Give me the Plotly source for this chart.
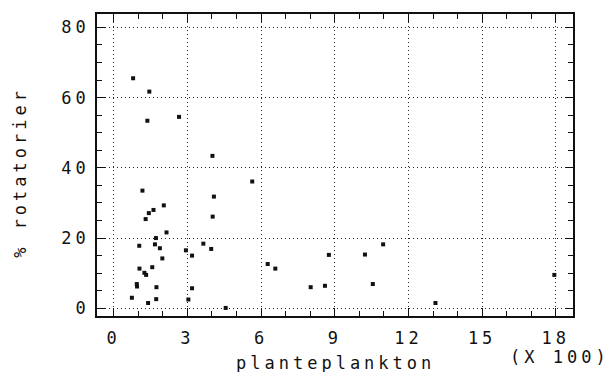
import plotly.graph_objects as go

# Data (x in hundreds)
planteplankton = [0.79, 1.45, 1.37, 2.66, 4.02, 5.64, 1.17, 4.08, 2.04, 1.62,
                  1.43, 1.30, 4.03, 2.15, 1.72, 1.04, 1.68, 1.88, 3.65, 3.97,
                  2.94, 3.19, 1.98, 6.27, 6.58, 1.05, 1.57, 1.25, 1.32, 0.94,
                  0.95, 1.74, 3.19, 0.74, 1.73, 3.04, 1.40, 4.56, 8.76, 8.02,
                  8.60, 10.23, 10.97, 10.55, 13.10, 17.94]
rotatorier = [65.5, 61.7, 53.4, 54.5, 43.4, 36.1, 33.5, 31.8, 29.3, 28.0,
              27.1, 25.4, 26.1, 21.6, 20.0, 17.8, 18.2, 17.1, 18.4, 16.9,
              16.5, 15.0, 14.2, 12.6, 11.3, 11.3, 11.7, 10.1, 9.5, 6.9,
              6.2, 6.0, 5.7, 3.0, 2.6, 2.5, 1.5, 0.1, 15.2, 6.0,
              6.4, 15.3, 18.2, 6.9, 1.5, 9.5]

x_ticks = [0, 3, 6, 9, 12, 15, 18]
y_ticks = [0, 20, 40, 60, 80]

FONT = "DejaVu Sans Mono"
FSIZE = 17

fig = go.Figure()
fig.add_trace(go.Scatter(
    x=planteplankton, y=rotatorier, mode="markers",
    marker=dict(symbol="square", size=4, color="#111111",
                line=dict(width=0)),
    showlegend=False, hoverinfo="skip"))

axis_common = dict(
    showline=True, linecolor="#111111", linewidth=1.5, mirror="allticks",
    ticks="inside", ticklen=8, tickwidth=1, tickcolor="#111111",
    showgrid=True, gridcolor="#222222", gridwidth=1, griddash="1px,3px",
    zeroline=False,
    tickfont=dict(family=FONT, size=FSIZE, color="#111111"),
)

fig.update_xaxes(range=[-0.68, 18.7], tickvals=x_ticks,
                 ticktext=[str(v) for v in x_ticks],
                 minor=dict(ticks="inside", dtick=1, tick0=0, ticklen=5,
                            tickcolor="#111111", showgrid=False),
                 ticklabelstandoff=6, **axis_common)
fig.update_yaxes(range=[-2.2, 83.8], tickvals=y_ticks,
                 ticktext=[str(v) for v in y_ticks],
                 minor=dict(ticks="inside", dtick=5, tick0=0, ticklen=5,
                            tickcolor="#111111", showgrid=False),
                 ticklabelstandoff=2, **axis_common)

ann_font = dict(family=FONT, size=FSIZE, color="#111111")
fig.update_layout(
    width=610, height=372,
    margin=dict(l=97, r=37, t=14, b=56),
    paper_bgcolor="white", plot_bgcolor="white",
    annotations=[
        dict(text="planteplankton", xref="paper", yref="paper",
             x=0.5, y=-0.155, xanchor="center", yanchor="middle",
             showarrow=False, font=ann_font),
        dict(text="% rotatorier", xref="paper", yref="paper",
             x=-0.162, y=0.477, xanchor="center", yanchor="middle",
             textangle=-90, showarrow=False, font=ann_font),
        dict(text="(X 100)", xref="paper", yref="paper",
             x=0.973, y=-0.136, xanchor="center", yanchor="middle",
             showarrow=False, font=ann_font),
    ],
)

post = """
document.body.style.margin = '0';
document.body.style.padding = '0';
var gd = document.getElementById('{plot_id}');
function spaceText(){
  gd.querySelectorAll('.xtick text, .ytick text, .annotation-text').forEach(function(e){
    e.style.letterSpacing = '4px';
  });
}
spaceText();
gd.on && gd.on('plotly_afterplot', spaceText);
"""

fig.write_html("out.html", post_script=post,
               config={"displayModeBar": False})
